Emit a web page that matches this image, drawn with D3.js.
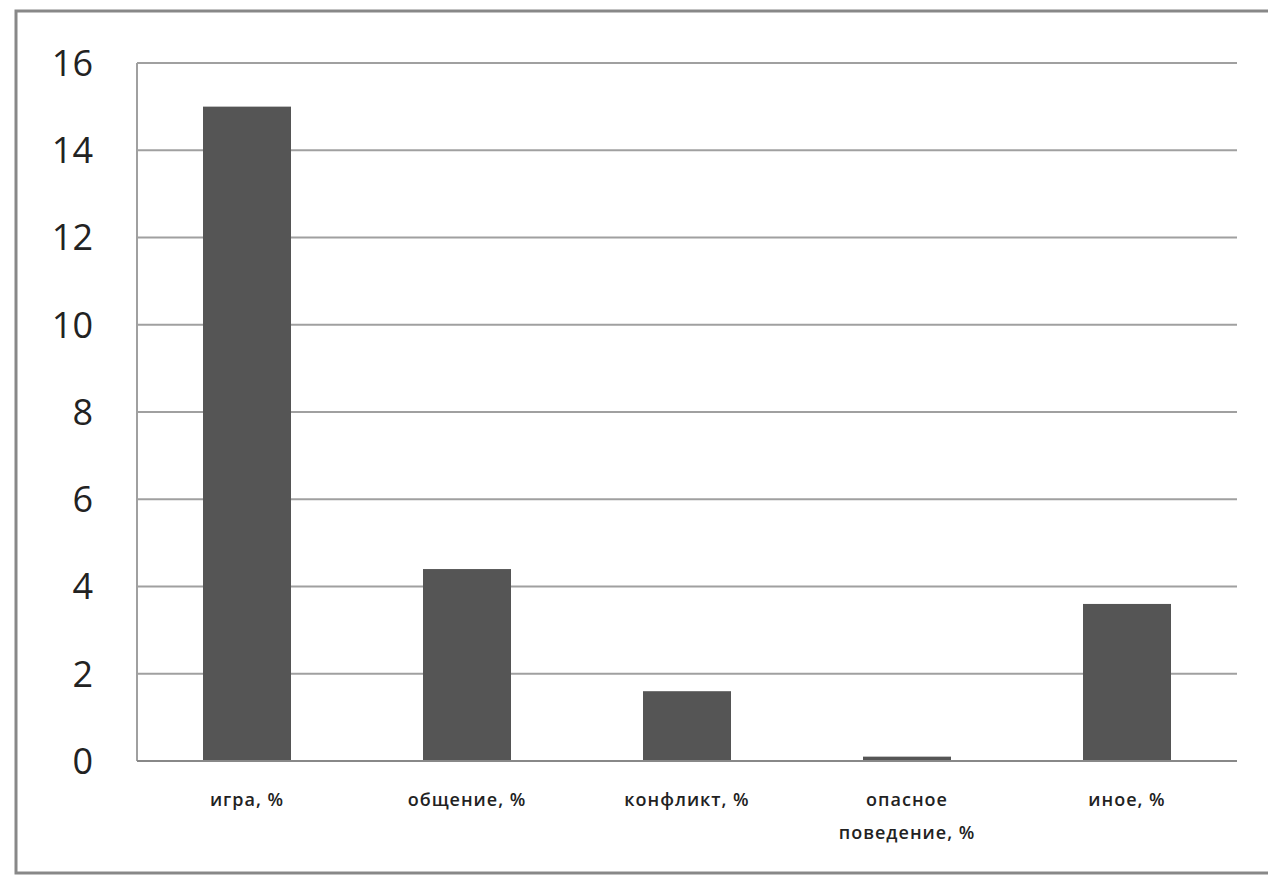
<!DOCTYPE html>
<html>
<head>
<meta charset="utf-8">
<script src="https://cdn.jsdelivr.net/npm/d3@7"></script>
<style>
body { margin: 0; background: #fff; }
</style>
</head>
<body>
<svg width="1268" height="875"></svg>
<script>
var svg = d3.select("svg");
var width = +svg.attr("width");
var height = +svg.attr("height");

// data
var categories = ["игра, %", "общение, %", "конфликт, %", "опасное поведение, %", "иное, %"];
var labelLines = [["игра, %"], ["общение, %"], ["конфликт, %"], ["опасное", "поведение, %"], ["иное, %"]];
var values = [15, 4.4, 1.6, 0.1, 3.6];
var yTicks = [0, 2, 4, 6, 8, 10, 12, 14, 16];

var margin = { left: 137, right: 31, top: 63, bottom: 114 };

// outer frame
svg.append("rect")
    .attr("x", 16)
    .attr("y", 11)
    .attr("width", width + 10)
    .attr("height", 862)
    .attr("fill", "none")
    .attr("stroke", "#888")
    .attr("stroke-width", 3);

var x = d3.scaleBand()
    .domain(categories)
    .range([margin.left, width - margin.right])
    .paddingInner(0.6)
    .paddingOuter(0.3);

var y = d3.scaleLinear()
    .domain([0, 16])
    .range([height - margin.bottom, margin.top]);

// gridlines
svg.append("g")
    .selectAll("line")
    .data(yTicks)
    .enter()
    .append("line")
    .attr("x1", margin.left)
    .attr("x2", width - margin.right)
    .attr("y1", function(d) { return y(d); })
    .attr("y2", function(d) { return y(d); })
    .attr("stroke", "#a0a0a0")
    .attr("stroke-width", 2);

// left axis line
svg.append("line")
    .attr("x1", margin.left)
    .attr("x2", margin.left)
    .attr("y1", y(16))
    .attr("y2", y(0))
    .attr("stroke", "#a0a0a0")
    .attr("stroke-width", 2);

// y labels
svg.append("g")
    .selectAll("text")
    .data(yTicks)
    .enter()
    .append("text")
    .attr("x", 93)
    .attr("y", function(d) { return y(d); })
    .attr("dy", "0.36em")
    .attr("text-anchor", "end")
    .style("font-family", "'Open Sans', sans-serif")
    .style("font-size", "36px")
    .style("fill", "#222")
    .text(function(d) { return d; });

// bars
svg.append("g")
    .selectAll("rect")
    .data(values)
    .enter()
    .append("rect")
    .attr("x", function(d, i) { return x(categories[i]); })
    .attr("y", function(d) { return y(d); })
    .attr("width", x.bandwidth())
    .attr("height", function(d) { return y(0) - y(d); })
    .attr("fill", "#555555");

// baseline
svg.append("line")
    .attr("x1", margin.left)
    .attr("x2", width - margin.right)
    .attr("y1", y(0))
    .attr("y2", y(0))
    .attr("stroke", "#888")
    .attr("stroke-width", 2);

// x labels
var xl = svg.append("g")
    .selectAll("text")
    .data(labelLines)
    .enter()
    .append("text")
    .attr("x", function(d, i) { return x(categories[i]) + x.bandwidth() / 2; })
    .attr("y", 806)
    .attr("text-anchor", "middle")
    .style("font-family", "'Open Sans', sans-serif")
    .style("font-size", "18px")
    .style("font-weight", "600")
    .style("letter-spacing", "1px")
    .style("fill", "#222");

xl.selectAll("tspan")
    .data(function(d) { return d; })
    .enter()
    .append("tspan")
    .attr("x", function() { return d3.select(this.parentNode).attr("x"); })
    .attr("dy", function(d, i) { return i === 0 ? 0 : 33; })
    .text(function(d) { return d; });
</script>
</body>
</html>
